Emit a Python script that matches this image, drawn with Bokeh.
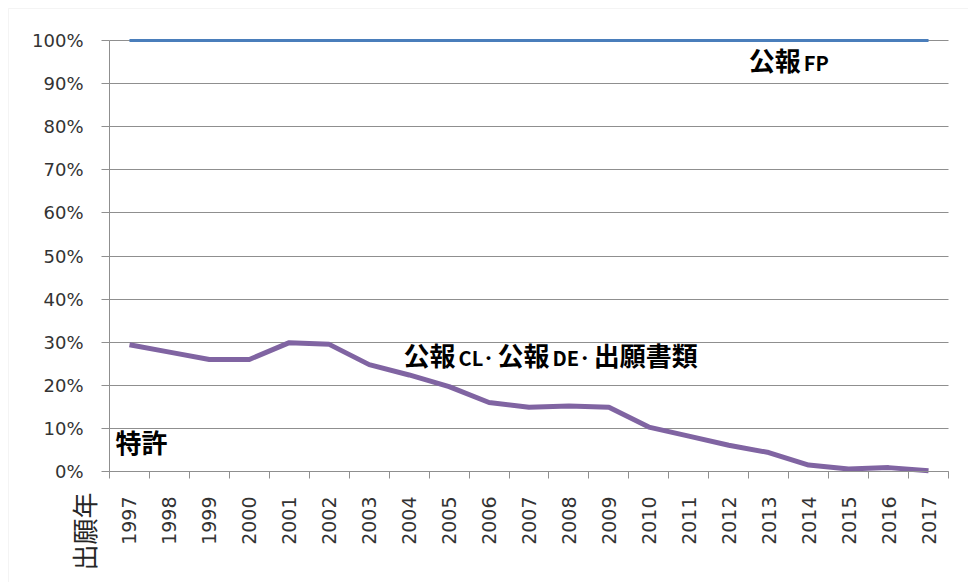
import math
from bokeh.plotting import figure
from bokeh.models import (ColumnDataSource, FixedTicker, NumeralTickFormatter,
                          Range1d, BoxAnnotation)
from bokeh.core.properties import value
from bokeh.embed import file_html
from bokeh.resources import INLINE

# ---- data ----
years = [1997, 1998, 1999, 2000, 2001, 2002, 2003, 2004, 2005, 2006, 2007,
         2008, 2009, 2010, 2011, 2012, 2013, 2014, 2015, 2016, 2017]
share_fp = [1.0, 1.0, 1.0, 1.0, 1.0, 1.0, 1.0, 1.0, 1.0, 1.0, 1.0,
            1.0, 1.0, 1.0, 1.0, 1.0, 1.0, 1.0, 1.0, 1.0, 1.0]
share_cl_de_app = [0.294, 0.277, 0.260, 0.260, 0.299, 0.295, 0.248, 0.224,
                   0.197, 0.160, 0.149, 0.152, 0.149, 0.103, 0.082, 0.061,
                   0.044, 0.015, 0.006, 0.009, 0.002]
y_ticks = [0.0, 0.1, 0.2, 0.3, 0.4, 0.5, 0.6, 0.7, 0.8, 0.9, 1.0]
x_axis_title = "出願年"
x_axis_title_pos = (1995.85, -0.139)

# labels: (left edge on year axis, baseline value, segments)
label_x = [2012.5, 2003.86, 1996.65]
label_y = [0.956, 0.272, 0.070]
label_segments = [
    [("公報", "cjk"), ("FP", "lat")],
    [("公報", "cjk"), ("CL", "lat"), ("･", "lat"), ("公報", "cjk"),
     ("DE", "lat"), ("･", "lat"), ("出願書類", "cjk")],
    [("特許", "cjk")],
]

# ---- layout: the frame covers the whole canvas, axes sit at fixed places ----
W, H = 968, 582
PLOT_L, PLOT_R, PLOT_T, PLOT_B = 109, 948, 40, 471   # pixel box of the data area
x_lo, x_hi = years[0] - 0.5, years[-1] + 0.5
px_per_x = (PLOT_R - PLOT_L) / (x_hi - x_lo)
px_per_y = (PLOT_B - PLOT_T) / 1.0
xr = Range1d(x_lo - PLOT_L / px_per_x, x_hi + (W - PLOT_R) / px_per_x)
yr = Range1d(-(H - PLOT_B) / px_per_y, 1.0 + PLOT_T / px_per_y)

CJK_PX = 26
LAT_PX = 20
LAT_EM = {"C": 0.60, "L": 0.50, "D": 0.66, "E": 0.55, "F": 0.52, "P": 0.62,
          "･": 0.55}
GAP = 3

def seg_width(text, kind):
    if kind == "cjk":
        return len(text) * CJK_PX
    return sum(LAT_EM.get(ch, 0.6) for ch in text) * LAT_PX

lx, ly, lt, lsize, loff, lyoff = [], [], [], [], [], []
for x0, y0, segs in zip(label_x, label_y, label_segments):
    off = 0.0
    for text, kind in segs:
        lx.append(x0)
        ly.append(y0)
        lt.append(text)
        lsize.append(f"{CJK_PX if kind == 'cjk' else LAT_PX}px")
        loff.append(off)
        lyoff.append(0 if kind == "cjk" else 3)
        off += seg_width(text, kind) + GAP

label_src = ColumnDataSource(dict(x=lx, y=ly, text=lt, size=lsize, xo=loff,
                                  yo=lyoff))

p = figure(width=W, height=H, output_backend="svg", toolbar_location=None,
           x_range=xr, y_range=yr,
           min_border_left=0, min_border_right=0,
           min_border_top=0, min_border_bottom=0)
p.outline_line_color = None
p.background_fill_color = "white"
p.border_fill_color = "white"

grid_col = "#8f8f8f"

# horizontal gridlines limited to the data area
p.xgrid.visible = False
p.ygrid.ticker = FixedTicker(ticks=y_ticks)
p.ygrid.grid_line_color = grid_col
p.ygrid.grid_line_width = 1
try:
    p.ygrid.cross_bounds = (x_lo, x_hi)
except Exception:
    p.ygrid.visible = False
    p.segment(x0=[x_lo] * len(y_ticks), x1=[x_hi] * len(y_ticks),
              y0=y_ticks, y1=y_ticks, line_color=grid_col, line_width=1)

p.line(years, share_fp, line_color="#4A7EBB", line_width=3)
p.line(years, share_cl_de_app, line_color="#8064A2", line_width=5,
       line_join="round")

p.text(x="x", y="y", text="text", x_offset="xo", y_offset="yo",
       source=label_src,
       text_font=value("Noto Sans CJK JP"), text_font_style="bold",
       text_font_size="size", text_color="#000000",
       text_align="left", text_baseline="alphabetic")

p.text(x=[x_axis_title_pos[0]], y=[x_axis_title_pos[1]], text=[x_axis_title],
       angle=math.pi / 2, text_font=value("Noto Sans CJK JP"),
       text_font_size="26px", text_color="#262626",
       text_align="center", text_baseline="middle")

# axes
xa = p.xaxis[0]
xa.fixed_location = 0
xa.bounds = (x_lo, x_hi)
xa.ticker = FixedTicker(ticks=years,
                        minor_ticks=[y - 0.5 for y in years] + [years[-1] + 0.5])
xa.major_tick_out = 0
xa.major_tick_in = 0
xa.minor_tick_out = 7
xa.minor_tick_in = 0
xa.minor_tick_line_color = grid_col
xa.axis_line_color = grid_col
xa.major_label_orientation = math.pi / 2
xa.major_label_standoff = 18
xa.major_label_text_font = "DejaVu Sans"
xa.major_label_text_font_size = "19px"
xa.major_label_text_color = "#333333"

ya = p.yaxis[0]
ya.fixed_location = x_lo
ya.bounds = (0, 1)
ya.ticker = FixedTicker(ticks=y_ticks)
ya.formatter = NumeralTickFormatter(format="0%")
ya.major_tick_out = 8
ya.major_tick_in = 0
ya.minor_tick_line_color = None
ya.major_tick_line_color = grid_col
ya.axis_line_color = grid_col
ya.major_label_standoff = 18
ya.major_label_text_font = "DejaVu Sans"
ya.major_label_text_font_size = "18px"
ya.major_label_text_color = "#333333"

# light outer chart border (top and left edges visible)
p.add_layout(BoxAnnotation(left=8, right=W + 50, top=H - 8, bottom=-50,
                           left_units="screen", right_units="screen",
                           top_units="screen", bottom_units="screen",
                           fill_color=None, line_color="#d9d9d9",
                           line_width=1, level="underlay"))

open("out.html", "w").write(file_html(p, INLINE))
